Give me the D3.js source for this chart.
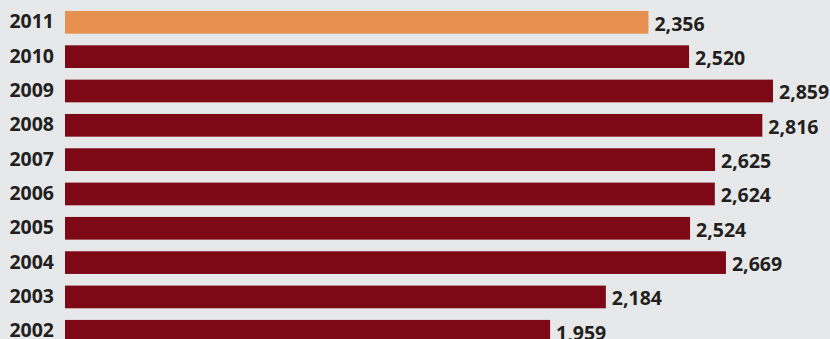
<!DOCTYPE html>
<html>
<head>
<meta charset="utf-8">
<script src="https://cdn.jsdelivr.net/npm/d3@7"></script>
<style>
  html, body { margin: 0; padding: 0; background: #e7e8e9; }
  svg { display: block; }
  text { font-family: "Open Sans", sans-serif; font-weight: 700; fill: #231f20; }
</style>
</head>
<body>
<svg id="chart" width="830" height="339"></svg>
<script>
// Annual totals, newest first
const years = ["2011", "2010", "2009", "2008", "2007", "2006", "2005", "2004", "2003", "2002"];
const values = [2356, 2520, 2859, 2816, 2625, 2624, 2524, 2669, 2184, 1959];
const highlightYear = "2011";

const svg = d3.select("#chart");

const x = d3.scaleLinear().domain([0, 2859]).range([65, 773]);
const y = d3.scaleBand().domain(years).range([0, 353.6]).paddingInner(0.339).paddingOuter(0.32);

const fmt = d3.format(",");

svg.selectAll("rect.bar")
  .data(years)
  .join("rect")
  .attr("class", "bar")
  .attr("x", x(0))
  .attr("y", d => y(d))
  .attr("width", (d, i) => x(values[i]) - x(0))
  .attr("height", y.bandwidth())
  .attr("fill", d => d === highlightYear ? "#e6914f" : "#7d0916");

svg.selectAll("text.year")
  .data(years)
  .join("text")
  .attr("class", "year")
  .attr("x", 54)
  .attr("y", d => y(d) + y.bandwidth() / 2 + 6)
  .attr("text-anchor", "end")
  .style("font-size", "19.5px")
  .text(d => d);

svg.selectAll("text.val")
  .data(years)
  .join("text")
  .attr("class", "val")
  .attr("x", (d, i) => x(values[i]) + 6)
  .attr("y", d => y(d) + y.bandwidth() / 2 + 8.5)
  .style("font-size", "19.5px")
  .text((d, i) => fmt(values[i]));
</script>
</body>
</html>
